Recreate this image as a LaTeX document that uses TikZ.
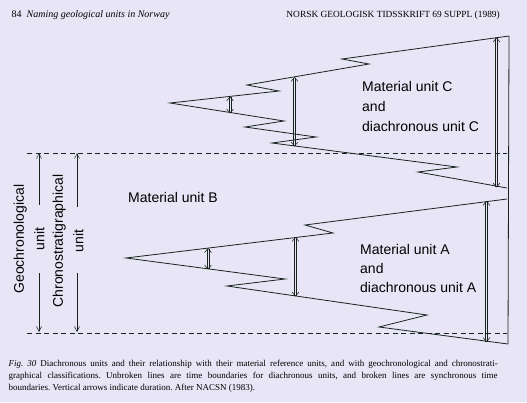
\documentclass[tikz,border=0pt]{standalone}
\usepackage{fontspec}
\setmainfont{Liberation Serif}
\setsansfont{Liberation Sans}
\usetikzlibrary{arrows.meta}
\definecolor{paper}{RGB}{232,230,246}
\definecolor{ink}{RGB}{25,35,30}
\tikzset{
  bound/.style={ink, line width=0.8pt, line join=miter},
  sync/.style={ink, line width=0.7pt, dash pattern=on 5pt off 3.5pt},
  durline/.style={ink, line width=0.55pt},
  span/.style={ink, line width=0.5pt, -{Straight Barb[length=5pt,width=5pt]}},
  unitlabel/.style={font=\sffamily\fontsize{14}{20}\selectfont, anchor=west, align=left, inner sep=0pt},
  sidelabel/.style={font=\sffamily\fontsize{14}{20.5}\selectfont, rotate=90, align=center, inner sep=0pt},
}
\begin{document}
\begin{tikzpicture}[x=1pt,y=-1pt]
  \fill[paper] (0,0) rectangle (527,402);
  \useasboundingbox (0,0) rectangle (527,402);
  % running head
  \node[anchor=base west, inner sep=0pt, font=\fontsize{10}{12}\selectfont] (head) at (11.5,17) {84\enspace\textit{Naming geological units in Norway}};
  \node[anchor=base east, inner sep=0pt, font=\fontsize{9.4}{12}\selectfont] (journal) at (500,17) {NORSK GEOLOGISK TIDSSKRIFT 69 SUPPL (1989)};
  % synchronous time boundaries
  \coordinate (upper west) at (27,153);  \coordinate (upper east) at (507,153);
  \coordinate (lower west) at (27,333);  \coordinate (lower east) at (507,333);
  \draw[sync] (upper west) -- (upper east);
  \draw[sync] (lower west) -- (lower east);
  % diachronous unit C and A
  \draw[bound] (509,36) -- (342,59) -- (369,64) -- (247,85) -- (279,91) -- (170,103)
    -- (284,121) -- (245,127) -- (316,137) -- (272,143) -- (457,167) -- (418,172) -- (507,188);
  \draw[bound] (507,199) -- (305,225) -- (333,233) -- (126,258) -- (285,279) -- (227,286)
    -- (427,315) -- (379,327) -- (508,344);
  \draw[bound] (509,36) -- (508,344);
  % durations (hollow double arrows)
  \foreach \n/\x/\ya/\yb in {c1/230/97/113, c2/294.5/77.5/146, c3/496.5/38/187,
                             a1/208/248.5/269, a2/295.5/237.5/296, a3/486.5/201.5/341.5}{
    \coordinate (\n top) at (\x,\ya);
    \coordinate (\n bot) at (\x,\yb);
    \draw[durline] ([xshift=-1.2pt]\n top) -- ([xshift=-1.2pt]\n bot)
                   ([xshift=1.2pt]\n top) -- ([xshift=1.2pt]\n bot);
    \draw[durline] ([shift={(-3.5,4)}]\n top) -- (\n top) -- ([shift={(3.5,4)}]\n top);
    \draw[durline] ([shift={(-3.5,-4)}]\n bot) -- (\n bot) -- ([shift={(3.5,-4)}]\n bot);
  }
  \node[unitlabel] (unit C) at (362,106) {Material unit C\\and\\diachronous unit C};
  \node[unitlabel] (unit B) at (128,197) {Material unit B};
  \node[unitlabel, font=\sffamily\fontsize{14}{19}\selectfont] (unit A) at (360,268) {Material unit A\\and\\diachronous unit A};
  % geochronological and chronostratigraphical units
  \node[sidelabel] (geo) at (29,239) {Geochronological\\unit};
  \node[sidelabel] (chrono) at (68,241) {Chronostratigraphical\\unit};
  \coordinate (geo up) at (39,205);     \coordinate (geo down) at (39,273);
  \coordinate (chrono up) at (77,207);  \coordinate (chrono down) at (77,273);
  \draw[span] (geo up) -- (39,153);
  \draw[span] (geo down) -- (39,332);
  \draw[span] (chrono up) -- (77,153);
  \draw[span] (chrono down) -- (77,332);
  % caption
  \node[anchor=north west, inner sep=0pt, text width=489pt, align=justify,
        font=\fontsize{9}{12}\selectfont\frenchspacing] (caption) at (8.5,359.5)
    {\textit{Fig. 30} Diachronous units and their relationship with their material reference units, and with geochronological and chronostrati-\linebreak graphical classifications. Unbroken lines are time boundaries for diachronous units, and broken lines are synchronous time\linebreak boundaries. Vertical arrows indicate duration. After NACSN (1983).};
\end{tikzpicture}
\end{document}
